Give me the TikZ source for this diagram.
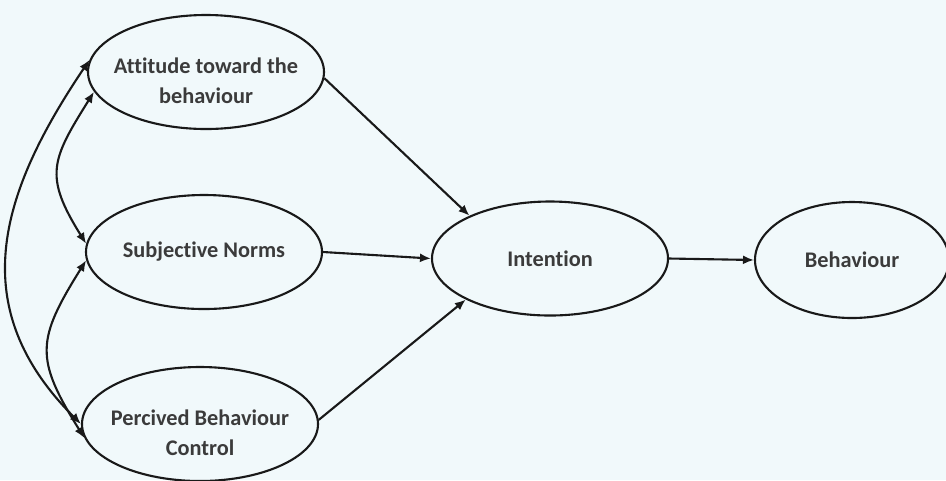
\documentclass[tikz,border=0pt]{standalone}
\usepackage{fontspec}
\setmainfont{Carlito}[Ligatures=NoCommon]
\usetikzlibrary{shapes.geometric,arrows.meta}
\newcommand{\dropline}{\rule{0pt}{19pt}}

\begin{document}
\begin{tikzpicture}[
  construct/.style={ellipse,very thick,draw=ink,fill=paper,inner sep=-0.6cm,
    minimum width=4.72cm,minimum height=2.28cm,align=center,text=ink!85,
    font=\bfseries\fontsize{12.7}{17}\selectfont},
  path/.style={very thick,draw=ink,-{Latex[length=2.2mm,width=1.8mm]}},
  corr/.style={very thick,draw=ink,{Latex[length=2.2mm,width=1.8mm]}-{Latex[length=2.2mm,width=1.8mm]}}]

\definecolor{paper}{RGB}{241,249,251};
\definecolor{ink}{RGB}{25,25,25};
\def\W{18.92}; \def\H{9.6};
\fill[paper] (0,0) rectangle (\W,-\H);
\useasboundingbox (0,0) rectangle (\W,-\H);

% the three antecedents
\node[construct] (att) at (4.12,-1.44) {\dropline Attitude toward the\\behaviour};
\node[construct] (sn) at (4.08,-5.04) {Subjective Norms};
\node[construct] (pbc) at (4.0,-8.48) {\dropline Percived Behaviour\\Control};

% intention and behaviour
\node[construct] (int) at (11.0,-5.17) {Intention};
\node[construct,minimum width=3.88cm,minimum height=2.32cm] (beh) at (17.04,-5.2) {Behaviour};

\draw[path] (att.-3) -- (int.152);
\draw[path] (sn.east) -- (int.west);
\draw[path] (pbc.2) -- (int.206);
\draw[path] (int.east) -- (beh.west);

% correlations
\draw[corr] (att.174) to[out=236,in=135,looseness=1.15] (pbc.180);
\draw[corr] (att.190) to[out=238,in=122,looseness=1.35] (sn.176);
\draw[corr] (sn.184) to[out=238,in=122,looseness=1.35] (pbc.187);

\end{tikzpicture}
\end{document}
